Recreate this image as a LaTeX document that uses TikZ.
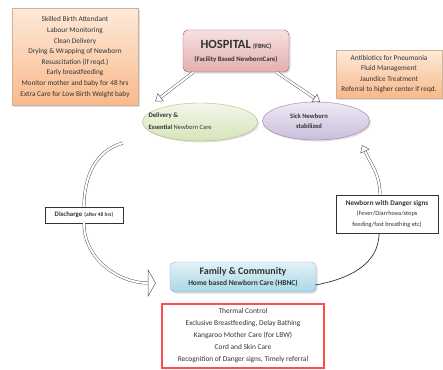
\documentclass[tikz,border=0pt]{standalone}
\usepackage{fontspec}
\setmainfont{Carlito}
\usetikzlibrary{positioning, calc, shapes.geometric, shadows, arrows.meta}

\definecolor{peach}{HTML}{FDE9D9}
\definecolor{apricot}{HTML}{F9B98A}
\definecolor{rosetop}{HTML}{F6E1E0}
\definecolor{rosebot}{HTML}{E3AFAE}
\definecolor{mintop}{HTML}{F3F7EA}
\definecolor{minbot}{HTML}{D6E4B9}
\definecolor{lilactop}{HTML}{EEEAF4}
\definecolor{lilacbot}{HTML}{C9BEDC}
\definecolor{skytop}{HTML}{E2F2F7}
\definecolor{skybot}{HTML}{A9D7E5}
\definecolor{ink}{HTML}{333333}

\tikzset{
  softshadow/.style={drop shadow={opacity=.25, shadow xshift=1.5pt, shadow yshift=-1.5pt}},
  carebox/.style={draw=orange!35!gray!60, top color=peach, bottom color=apricot,
    align=center, text=ink, font=\fontsize{7.3}{10.6}\selectfont, inner sep=2pt, softshadow},
  notebox/.style={draw=ink, fill=white, align=center, text=ink, inner sep=2pt},
  hollow/.style={draw=gray!65!black, double=white, double distance=2pt, line width=.45pt},
  hollowtip/.style={-{Triangle[open, length=7pt, width=10pt]}}
}

\begin{document}
\begin{tikzpicture}[x=1pt, y=1pt]
  \useasboundingbox (0,0) rectangle (443,-369);

  % care lists
  \node[carebox, minimum width=126pt, minimum height=97pt] (hosplist) at (75,-57)
    {Skilled Birth Attendant\\Labour Monitoring\\Clean Delivery\\Drying \& Wrapping of Newborn\\
     Resuscitation (if reqd.)\\Early breastfeeding\\Monitor mother and baby for 48 hrs\\
     Extra Care for Low Birth Weight baby};
  \node[carebox, minimum width=106pt, minimum height=48pt] (sicklist) at (389,-74)
    {Antibiotics for Pneumonia\\Fluid Management\\Jaundice Treatment\\Referral to higher center if reqd.};

  % levels of care
  \node[draw=red!35!gray, top color=rosetop, bottom color=rosebot, rounded corners=5pt,
        minimum width=106pt, minimum height=42pt, align=center, text=ink, softshadow] (hosp) at (236,-51)
    {{\fontsize{12.5}{13}\selectfont\bfseries HOSPITAL} {\fontsize{6.5}{7}\selectfont\bfseries (FBNC)}\\[1pt]
     {\fontsize{6.8}{7}\selectfont\bfseries (Facility Based NewbornCare)}};
  \node[draw=skybot!60!blue!70, top color=skytop, bottom color=skybot, rounded corners=5pt,
        minimum width=146pt, minimum height=30pt, align=center, text=ink, softshadow] (fam) at (243,-277)
    {{\fontsize{10}{11}\selectfont\bfseries Family \& Community}\\[-1pt]
     {\fontsize{7.5}{8}\selectfont\bfseries Home based Newborn Care (HBNC)}};
  \node[draw=red!70, line width=1.4pt, fill=white, minimum width=162pt, minimum height=64pt,
        align=center, text=ink, font=\fontsize{7.4}{12}\selectfont] (homelist) at (243,-336)
    {Thermal Control\\Exclusive Breastfeeding, Delay Bathing\\Kangaroo Mother Care (for LBW)\\
     Cord and Skin Care\\Recognition of Danger signs, Timely referral};

  % outcomes
  \node[ellipse, draw=minbot!60!olive, top color=mintop, bottom color=minbot, inner sep=0pt,
        minimum width=115pt, minimum height=38pt, softshadow] (deliv) at (200,-122) {};
  \node[right, align=left, text=ink, inner sep=0pt] (delivtext) at ($(deliv.west)+(6,1)$)
    {{\fontsize{6.8}{8}\selectfont\bfseries Delivery \&}\\
     {\fontsize{6.5}{9}\selectfont\bfseries Essential \mdseries Newborn Care}};
  \node[ellipse, draw=lilacbot!60!violet, top color=lilactop, bottom color=lilacbot, inner sep=0pt,
        minimum width=107pt, minimum height=38pt, align=center, text=ink,
        font=\fontsize{6.6}{10}\selectfont\bfseries, softshadow] (sick) at (316,-121)
    {\hspace*{-14pt}Sick Newborn\\\hspace*{-14pt}stabilized};

  % hospital to outcomes
  \coordinate (hosp-l) at ($(hosp.south west)!.1!(hosp.south east)$);
  \coordinate (hosp-r) at ($(hosp.south west)!.88!(hosp.south east)$);
  \draw[hollow, hollowtip] (hosp-l) -- ($(deliv.north west)+(-4,7)$);
  \draw[hollow, hollowtip] (hosp-r) -- (sick.78);

  % the cycle
  \coordinate (dis-start) at (123,-143);
  \coordinate (fam-l) at ($(fam.west)+(-14,-6)$);
  \coordinate (fam-r) at ($(fam.east)+(-1,-8)$);
  \coordinate (sick-tip) at (362,-145);
  \node[notebox, minimum width=78pt, minimum height=16pt] (dis) at (84,-215)
    {{\fontsize{6.8}{7}\selectfont\bfseries Discharge} {\fontsize{5.4}{6}\selectfont\bfseries (after 48 hrs)}};
  \node[notebox, minimum width=102pt, minimum height=38pt, font=\fontsize{6.4}{10.8}\selectfont] (danger) at (387,-214)
    {{\fontsize{7.2}{8}\selectfont\bfseries Newborn with Danger signs}\\(Fever/Diarrhoea/stops\\feeding/fast breathing etc)};

  \draw[hollow] (dis-start) to[out=195, in=90] (dis.north);
  \draw[hollow, -{Triangle[open, length=8pt, width=28pt]}] (dis.south) to[out=-90, in=180] (fam-l);
  \draw[ink, line width=.7pt] (fam-r) to[out=10, in=-90] ($(danger.south)+(-8,0)$);
  \draw[hollow, hollowtip] ($(danger.north)+(-7,0)$) to[out=90, in=-65] (sick-tip);
\end{tikzpicture}
\end{document}
